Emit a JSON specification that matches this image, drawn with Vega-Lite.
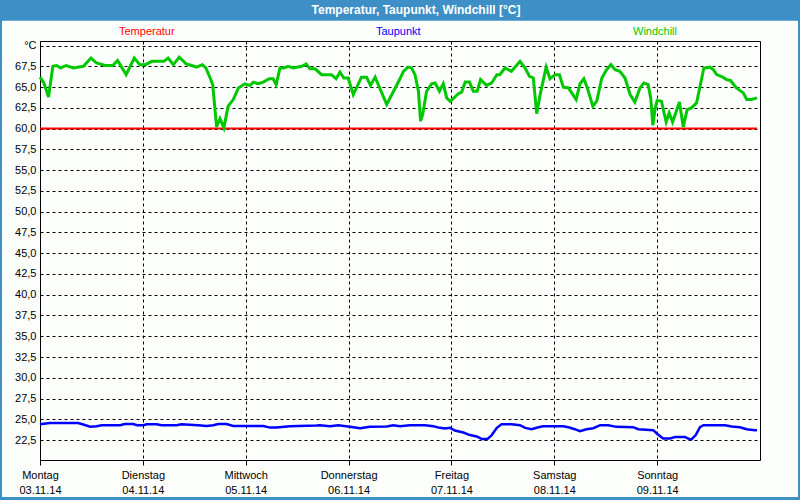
{
 "$schema": "https://vega.github.io/schema/vega-lite/v6.json",
 "width": 720,
 "height": 419,
 "autosize": {"type": "none"},
 "padding": {"left": 40, "top": 41, "right": 40, "bottom": 40},
 "background": "#fcfefc",
 "config": {
  "view": {"stroke": "#000000", "strokeWidth": 1},
  "font": "Liberation Sans",
  "axis": {"labelOverlap": false, "labelBound": false, "labelFlush": false, "title": null, "domain": false,
   "grid": true, "gridColor": "#000000", "gridDash": [3, 3], "gridWidth": 1, "gridOpacity": 1,
   "labelFont": "Liberation Sans", "labelFontSize": 11, "labelColor": "#000000"},
  "axisX": {"ticks": true, "tickColor": "#000000", "tickSize": 5, "tickWidth": 1, "labelAlign": "center", "labelBaseline": "top", "labelPadding": 4, "labelLineHeight": 15},
  "axisY": {"ticks": false, "labelPadding": 4}
 },
 "resolve": {"axis": {"x": "independent", "y": "independent"}},
 "data": {"values": [
  {"s":"Temperatur","t":"2014-11-03T00:00","v":60},
  {"s":"Temperatur","t":"2014-11-09T23:18","v":60},
  {"s":"Taupunkt","t":"2014-11-03T00:00","v":24.4},
  {"s":"Taupunkt","t":"2014-11-03T02:18","v":24.56},
  {"s":"Taupunkt","t":"2014-11-03T08:54","v":24.56},
  {"s":"Taupunkt","t":"2014-11-03T10:06","v":24.37},
  {"s":"Taupunkt","t":"2014-11-03T11:42","v":24.1},
  {"s":"Taupunkt","t":"2014-11-03T13:12","v":24.17},
  {"s":"Taupunkt","t":"2014-11-03T14:24","v":24.29},
  {"s":"Taupunkt","t":"2014-11-03T18:42","v":24.29},
  {"s":"Taupunkt","t":"2014-11-03T19:48","v":24.44},
  {"s":"Taupunkt","t":"2014-11-03T21:48","v":24.44},
  {"s":"Taupunkt","t":"2014-11-03T22:36","v":24.29},
  {"s":"Taupunkt","t":"2014-11-04T00:06","v":24.29},
  {"s":"Taupunkt","t":"2014-11-04T00:54","v":24.4},
  {"s":"Taupunkt","t":"2014-11-04T03:12","v":24.4},
  {"s":"Taupunkt","t":"2014-11-04T04:24","v":24.29},
  {"s":"Taupunkt","t":"2014-11-04T07:54","v":24.29},
  {"s":"Taupunkt","t":"2014-11-04T09:00","v":24.4},
  {"s":"Taupunkt","t":"2014-11-04T12:54","v":24.29},
  {"s":"Taupunkt","t":"2014-11-04T14:54","v":24.2},
  {"s":"Taupunkt","t":"2014-11-04T16:24","v":24.29},
  {"s":"Taupunkt","t":"2014-11-04T17:36","v":24.44},
  {"s":"Taupunkt","t":"2014-11-04T19:30","v":24.44},
  {"s":"Taupunkt","t":"2014-11-04T21:06","v":24.2},
  {"s":"Taupunkt","t":"2014-11-05T04:06","v":24.2},
  {"s":"Taupunkt","t":"2014-11-05T05:42","v":24.0},
  {"s":"Taupunkt","t":"2014-11-05T07:12","v":24.0},
  {"s":"Taupunkt","t":"2014-11-05T10:18","v":24.17},
  {"s":"Taupunkt","t":"2014-11-05T16:30","v":24.25},
  {"s":"Taupunkt","t":"2014-11-05T17:18","v":24.29},
  {"s":"Taupunkt","t":"2014-11-05T19:42","v":24.17},
  {"s":"Taupunkt","t":"2014-11-05T21:36","v":24.29},
  {"s":"Taupunkt","t":"2014-11-06T00:18","v":24.09},
  {"s":"Taupunkt","t":"2014-11-06T02:42","v":23.93},
  {"s":"Taupunkt","t":"2014-11-06T05:00","v":24.09},
  {"s":"Taupunkt","t":"2014-11-06T08:54","v":24.13},
  {"s":"Taupunkt","t":"2014-11-06T10:24","v":24.29},
  {"s":"Taupunkt","t":"2014-11-06T12:00","v":24.17},
  {"s":"Taupunkt","t":"2014-11-06T14:18","v":24.29},
  {"s":"Taupunkt","t":"2014-11-06T17:48","v":24.29},
  {"s":"Taupunkt","t":"2014-11-06T19:48","v":24.17},
  {"s":"Taupunkt","t":"2014-11-06T21:18","v":23.97},
  {"s":"Taupunkt","t":"2014-11-06T22:30","v":23.9},
  {"s":"Taupunkt","t":"2014-11-06T23:42","v":23.97},
  {"s":"Taupunkt","t":"2014-11-07T00:48","v":23.65},
  {"s":"Taupunkt","t":"2014-11-07T02:48","v":23.41},
  {"s":"Taupunkt","t":"2014-11-07T04:18","v":23.1},
  {"s":"Taupunkt","t":"2014-11-07T05:54","v":22.94},
  {"s":"Taupunkt","t":"2014-11-07T07:06","v":22.62},
  {"s":"Taupunkt","t":"2014-11-07T08:24","v":22.62},
  {"s":"Taupunkt","t":"2014-11-07T09:24","v":23.1},
  {"s":"Taupunkt","t":"2014-11-07T10:36","v":23.97},
  {"s":"Taupunkt","t":"2014-11-07T11:42","v":24.4},
  {"s":"Taupunkt","t":"2014-11-07T14:00","v":24.4},
  {"s":"Taupunkt","t":"2014-11-07T16:00","v":24.29},
  {"s":"Taupunkt","t":"2014-11-07T17:12","v":23.97},
  {"s":"Taupunkt","t":"2014-11-07T18:42","v":23.81},
  {"s":"Taupunkt","t":"2014-11-07T20:18","v":24.05},
  {"s":"Taupunkt","t":"2014-11-07T21:24","v":24.17},
  {"s":"Taupunkt","t":"2014-11-08T02:06","v":24.17},
  {"s":"Taupunkt","t":"2014-11-08T03:18","v":24.05},
  {"s":"Taupunkt","t":"2014-11-08T04:48","v":23.81},
  {"s":"Taupunkt","t":"2014-11-08T06:00","v":23.57},
  {"s":"Taupunkt","t":"2014-11-08T07:30","v":23.81},
  {"s":"Taupunkt","t":"2014-11-08T09:06","v":23.93},
  {"s":"Taupunkt","t":"2014-11-08T10:42","v":24.29},
  {"s":"Taupunkt","t":"2014-11-08T12:36","v":24.29},
  {"s":"Taupunkt","t":"2014-11-08T14:30","v":24.09},
  {"s":"Taupunkt","t":"2014-11-08T18:24","v":24.05},
  {"s":"Taupunkt","t":"2014-11-08T19:36","v":23.81},
  {"s":"Taupunkt","t":"2014-11-08T23:06","v":23.69},
  {"s":"Taupunkt","t":"2014-11-08T23:54","v":23.29},
  {"s":"Taupunkt","t":"2014-11-09T01:24","v":22.7},
  {"s":"Taupunkt","t":"2014-11-09T03:00","v":22.7},
  {"s":"Taupunkt","t":"2014-11-09T04:12","v":22.86},
  {"s":"Taupunkt","t":"2014-11-09T06:30","v":22.86},
  {"s":"Taupunkt","t":"2014-11-09T07:30","v":22.62},
  {"s":"Taupunkt","t":"2014-11-09T08:00","v":22.58},
  {"s":"Taupunkt","t":"2014-11-09T09:00","v":23.1},
  {"s":"Taupunkt","t":"2014-11-09T10:00","v":24.05},
  {"s":"Taupunkt","t":"2014-11-09T10:48","v":24.29},
  {"s":"Taupunkt","t":"2014-11-09T15:48","v":24.29},
  {"s":"Taupunkt","t":"2014-11-09T17:24","v":24.13},
  {"s":"Taupunkt","t":"2014-11-09T19:18","v":24.05},
  {"s":"Taupunkt","t":"2014-11-09T20:54","v":23.81},
  {"s":"Taupunkt","t":"2014-11-09T22:48","v":23.69},
  {"s":"Taupunkt","t":"2014-11-09T23:18","v":23.69},
  {"s":"Windchill","t":"2014-11-03T00:00","v":66.2},
  {"s":"Windchill","t":"2014-11-03T00:54","v":65.5},
  {"s":"Windchill","t":"2014-11-03T02:00","v":63.8},
  {"s":"Windchill","t":"2014-11-03T03:00","v":67.5},
  {"s":"Windchill","t":"2014-11-03T03:54","v":67.6},
  {"s":"Windchill","t":"2014-11-03T04:48","v":67.3},
  {"s":"Windchill","t":"2014-11-03T06:06","v":67.6},
  {"s":"Windchill","t":"2014-11-03T07:48","v":67.3},
  {"s":"Windchill","t":"2014-11-03T10:06","v":67.5},
  {"s":"Windchill","t":"2014-11-03T11:54","v":68.5},
  {"s":"Windchill","t":"2014-11-03T13:12","v":67.9},
  {"s":"Windchill","t":"2014-11-03T15:12","v":67.6},
  {"s":"Windchill","t":"2014-11-03T17:00","v":67.6},
  {"s":"Windchill","t":"2014-11-03T18:06","v":68.2},
  {"s":"Windchill","t":"2014-11-03T20:06","v":66.5},
  {"s":"Windchill","t":"2014-11-03T22:00","v":68.5},
  {"s":"Windchill","t":"2014-11-03T23:18","v":67.7},
  {"s":"Windchill","t":"2014-11-04T00:36","v":67.7},
  {"s":"Windchill","t":"2014-11-04T02:06","v":68.1},
  {"s":"Windchill","t":"2014-11-04T04:54","v":68.1},
  {"s":"Windchill","t":"2014-11-04T05:54","v":68.5},
  {"s":"Windchill","t":"2014-11-04T07:06","v":67.7},
  {"s":"Windchill","t":"2014-11-04T08:30","v":68.6},
  {"s":"Windchill","t":"2014-11-04T10:06","v":67.8},
  {"s":"Windchill","t":"2014-11-04T11:24","v":67.6},
  {"s":"Windchill","t":"2014-11-04T12:30","v":67.4},
  {"s":"Windchill","t":"2014-11-04T13:54","v":67.7},
  {"s":"Windchill","t":"2014-11-04T14:42","v":67.3},
  {"s":"Windchill","t":"2014-11-04T15:42","v":66.1},
  {"s":"Windchill","t":"2014-11-04T16:18","v":65.3},
  {"s":"Windchill","t":"2014-11-04T16:48","v":62.5},
  {"s":"Windchill","t":"2014-11-04T17:12","v":60.2},
  {"s":"Windchill","t":"2014-11-04T18:00","v":61.2},
  {"s":"Windchill","t":"2014-11-04T18:54","v":60.1},
  {"s":"Windchill","t":"2014-11-04T19:54","v":62.7},
  {"s":"Windchill","t":"2014-11-04T21:06","v":63.5},
  {"s":"Windchill","t":"2014-11-04T22:18","v":64.9},
  {"s":"Windchill","t":"2014-11-04T23:48","v":65.4},
  {"s":"Windchill","t":"2014-11-05T01:00","v":65.2},
  {"s":"Windchill","t":"2014-11-05T01:48","v":65.6},
  {"s":"Windchill","t":"2014-11-05T02:54","v":65.4},
  {"s":"Windchill","t":"2014-11-05T04:06","v":65.6},
  {"s":"Windchill","t":"2014-11-05T05:30","v":66.0},
  {"s":"Windchill","t":"2014-11-05T06:24","v":66.0},
  {"s":"Windchill","t":"2014-11-05T07:06","v":65.3},
  {"s":"Windchill","t":"2014-11-05T08:00","v":67.3},
  {"s":"Windchill","t":"2014-11-05T08:54","v":67.3},
  {"s":"Windchill","t":"2014-11-05T09:54","v":67.5},
  {"s":"Windchill","t":"2014-11-05T11:06","v":67.3},
  {"s":"Windchill","t":"2014-11-05T13:06","v":67.5},
  {"s":"Windchill","t":"2014-11-05T14:06","v":67.8},
  {"s":"Windchill","t":"2014-11-05T15:00","v":67.2},
  {"s":"Windchill","t":"2014-11-05T16:12","v":67.2},
  {"s":"Windchill","t":"2014-11-05T17:42","v":66.5},
  {"s":"Windchill","t":"2014-11-05T20:00","v":66.5},
  {"s":"Windchill","t":"2014-11-05T21:06","v":66.0},
  {"s":"Windchill","t":"2014-11-05T22:00","v":66.8},
  {"s":"Windchill","t":"2014-11-05T22:54","v":66.1},
  {"s":"Windchill","t":"2014-11-05T23:54","v":66.1},
  {"s":"Windchill","t":"2014-11-06T01:06","v":64.1},
  {"s":"Windchill","t":"2014-11-06T03:00","v":66.2},
  {"s":"Windchill","t":"2014-11-06T04:12","v":66.2},
  {"s":"Windchill","t":"2014-11-06T05:06","v":65.2},
  {"s":"Windchill","t":"2014-11-06T06:12","v":66.2},
  {"s":"Windchill","t":"2014-11-06T08:54","v":62.9},
  {"s":"Windchill","t":"2014-11-06T12:00","v":66.0},
  {"s":"Windchill","t":"2014-11-06T12:48","v":66.9},
  {"s":"Windchill","t":"2014-11-06T13:54","v":67.4},
  {"s":"Windchill","t":"2014-11-06T14:42","v":67.3},
  {"s":"Windchill","t":"2014-11-06T15:30","v":66.5},
  {"s":"Windchill","t":"2014-11-06T16:18","v":64.5},
  {"s":"Windchill","t":"2014-11-06T16:48","v":60.9},
  {"s":"Windchill","t":"2014-11-06T17:18","v":61.7},
  {"s":"Windchill","t":"2014-11-06T18:12","v":64.5},
  {"s":"Windchill","t":"2014-11-06T19:24","v":65.4},
  {"s":"Windchill","t":"2014-11-06T20:12","v":65.5},
  {"s":"Windchill","t":"2014-11-06T21:12","v":64.5},
  {"s":"Windchill","t":"2014-11-06T22:06","v":65.4},
  {"s":"Windchill","t":"2014-11-06T22:54","v":63.7},
  {"s":"Windchill","t":"2014-11-06T23:42","v":63.3},
  {"s":"Windchill","t":"2014-11-07T00:24","v":63.6},
  {"s":"Windchill","t":"2014-11-07T01:36","v":64.2},
  {"s":"Windchill","t":"2014-11-07T02:24","v":64.4},
  {"s":"Windchill","t":"2014-11-07T03:12","v":65.6},
  {"s":"Windchill","t":"2014-11-07T04:12","v":65.6},
  {"s":"Windchill","t":"2014-11-07T05:06","v":64.5},
  {"s":"Windchill","t":"2014-11-07T06:00","v":64.5},
  {"s":"Windchill","t":"2014-11-07T06:48","v":65.9},
  {"s":"Windchill","t":"2014-11-07T08:12","v":65.2},
  {"s":"Windchill","t":"2014-11-07T09:24","v":65.5},
  {"s":"Windchill","t":"2014-11-07T10:36","v":66.5},
  {"s":"Windchill","t":"2014-11-07T11:18","v":66.5},
  {"s":"Windchill","t":"2014-11-07T12:30","v":67.3},
  {"s":"Windchill","t":"2014-11-07T14:00","v":66.9},
  {"s":"Windchill","t":"2014-11-07T16:00","v":68.1},
  {"s":"Windchill","t":"2014-11-07T17:12","v":67.3},
  {"s":"Windchill","t":"2014-11-07T18:12","v":66.3},
  {"s":"Windchill","t":"2014-11-07T19:06","v":66.1},
  {"s":"Windchill","t":"2014-11-07T19:54","v":61.8},
  {"s":"Windchill","t":"2014-11-07T20:42","v":64.1},
  {"s":"Windchill","t":"2014-11-07T22:06","v":67.4},
  {"s":"Windchill","t":"2014-11-07T23:00","v":66.0},
  {"s":"Windchill","t":"2014-11-08T00:12","v":66.5},
  {"s":"Windchill","t":"2014-11-08T01:12","v":66.5},
  {"s":"Windchill","t":"2014-11-08T02:06","v":65.0},
  {"s":"Windchill","t":"2014-11-08T03:18","v":64.9},
  {"s":"Windchill","t":"2014-11-08T05:06","v":63.5},
  {"s":"Windchill","t":"2014-11-08T06:00","v":65.4},
  {"s":"Windchill","t":"2014-11-08T06:54","v":66.0},
  {"s":"Windchill","t":"2014-11-08T07:42","v":64.9},
  {"s":"Windchill","t":"2014-11-08T09:00","v":62.7},
  {"s":"Windchill","t":"2014-11-08T09:54","v":63.3},
  {"s":"Windchill","t":"2014-11-08T11:06","v":66.1},
  {"s":"Windchill","t":"2014-11-08T12:12","v":67.1},
  {"s":"Windchill","t":"2014-11-08T13:12","v":67.7},
  {"s":"Windchill","t":"2014-11-08T14:12","v":67.1},
  {"s":"Windchill","t":"2014-11-08T15:18","v":66.9},
  {"s":"Windchill","t":"2014-11-08T16:30","v":66.1},
  {"s":"Windchill","t":"2014-11-08T17:42","v":64.1},
  {"s":"Windchill","t":"2014-11-08T18:48","v":63.2},
  {"s":"Windchill","t":"2014-11-08T20:00","v":64.9},
  {"s":"Windchill","t":"2014-11-08T20:54","v":65.5},
  {"s":"Windchill","t":"2014-11-08T21:54","v":65.3},
  {"s":"Windchill","t":"2014-11-08T22:30","v":63.7},
  {"s":"Windchill","t":"2014-11-08T23:00","v":60.4},
  {"s":"Windchill","t":"2014-11-08T23:30","v":62.3},
  {"s":"Windchill","t":"2014-11-09T00:00","v":63.4},
  {"s":"Windchill","t":"2014-11-09T01:00","v":63.3},
  {"s":"Windchill","t":"2014-11-09T02:06","v":60.8},
  {"s":"Windchill","t":"2014-11-09T02:48","v":61.9},
  {"s":"Windchill","t":"2014-11-09T03:36","v":60.8},
  {"s":"Windchill","t":"2014-11-09T05:12","v":63.2},
  {"s":"Windchill","t":"2014-11-09T06:06","v":60.2},
  {"s":"Windchill","t":"2014-11-09T07:00","v":62.3},
  {"s":"Windchill","t":"2014-11-09T08:00","v":62.5},
  {"s":"Windchill","t":"2014-11-09T09:12","v":63.1},
  {"s":"Windchill","t":"2014-11-09T10:54","v":67.3},
  {"s":"Windchill","t":"2014-11-09T12:18","v":67.4},
  {"s":"Windchill","t":"2014-11-09T13:06","v":67.1},
  {"s":"Windchill","t":"2014-11-09T13:54","v":66.5},
  {"s":"Windchill","t":"2014-11-09T15:18","v":66.2},
  {"s":"Windchill","t":"2014-11-09T16:12","v":65.9},
  {"s":"Windchill","t":"2014-11-09T17:06","v":65.8},
  {"s":"Windchill","t":"2014-11-09T18:30","v":64.9},
  {"s":"Windchill","t":"2014-11-09T20:06","v":64.3},
  {"s":"Windchill","t":"2014-11-09T20:54","v":63.5},
  {"s":"Windchill","t":"2014-11-09T22:00","v":63.5},
  {"s":"Windchill","t":"2014-11-09T23:18","v":63.7}
 ]},
 "layer": [
  {
   "data": {"values": [{}]},
   "mark": {"type": "rect", "color": "#3d8fc6"},
   "encoding": {
    "x": {"datum": {"year": 2014, "month": 11, "date": 2, "hours": 12}, "type": "temporal", "axis": null},
    "x2": {"datum": {"year": 2014, "month": 11, "date": 10, "hours": 12}},
    "y": {"datum": 76, "type": "quantitative", "axis": null},
    "y2": {"datum": 73.0}
   }
  },
  {
   "data": {"values": [{}]},
   "mark": {"type": "rect", "color": "#3d8fc6"},
   "encoding": {
    "x": {"datum": {"year": 2014, "month": 11, "date": 2, "hours": 12}, "type": "temporal", "axis": null},
    "x2": {"datum": {"year": 2014, "month": 11, "date": 2, "hours": 15, "minutes": 8}},
    "y": {"datum": 76, "type": "quantitative", "axis": null},
    "y2": {"datum": 10}
   }
  },
  {
   "data": {"values": [{}]},
   "mark": {"type": "rect", "color": "#3d8fc6"},
   "encoding": {
    "x": {"datum": {"year": 2014, "month": 11, "date": 10, "hours": 8, "minutes": 52}, "type": "temporal", "axis": null},
    "x2": {"datum": {"year": 2014, "month": 11, "date": 10, "hours": 12}},
    "y": {"datum": 76, "type": "quantitative", "axis": null},
    "y2": {"datum": 10}
   }
  },
  {
   "data": {"values": [{}]},
   "mark": {"type": "rect", "color": "#3d8fc6"},
   "encoding": {
    "x": {"datum": {"year": 2014, "month": 11, "date": 2, "hours": 12}, "type": "temporal", "axis": null},
    "x2": {"datum": {"year": 2014, "month": 11, "date": 10, "hours": 12}},
    "y": {"datum": 15.65, "type": "quantitative", "axis": null},
    "y2": {"datum": 10}
   }
  },
  {
   "data": {"values": [{"label": "Temperatur, Taupunkt, Windchill [°C]"}]},
   "mark": {"type": "text", "color": "#ffffff", "font": "Liberation Sans", "fontSize": 12, "fontWeight": "bold", "align": "center", "baseline": "middle"},
   "encoding": {
    "x": {"datum": {"year": 2014, "month": 11, "date": 6, "hours": 15, "minutes": 44}, "type": "temporal", "axis": null},
    "y": {"datum": 74.28, "type": "quantitative", "axis": null},
    "text": {"field": "label", "type": "nominal"}
   }
  },
  {
   "mark": {"type": "line", "interpolate": "linear"},
   "encoding": {
    "x": {"field": "t", "type": "temporal",
     "scale": {"domain": [{"year": 2014, "month": 11, "date": 3}, {"year": 2014, "month": 11, "date": 10}]},
     "axis": {"title": null, "labelOverlap": false, "orient": "bottom",
      "grid": true, "gridColor": "#000000", "gridDash": [3, 3], "gridWidth": 1, "gridOpacity": 1,
      "values": [{"year": 2014, "month": 11, "date": 3}, {"year": 2014, "month": 11, "date": 4}, {"year": 2014, "month": 11, "date": 5}, {"year": 2014, "month": 11, "date": 6}, {"year": 2014, "month": 11, "date": 7}, {"year": 2014, "month": 11, "date": 8}, {"year": 2014, "month": 11, "date": 9}],
      "labelExpr": "[['Sonntag','Montag','Dienstag','Mittwoch','Donnerstag','Freitag','Samstag'][day(datum.value)], timeFormat(datum.value, '%d.%m.%y')]"}
    },
    "y": {"field": "v", "type": "quantitative",
     "scale": {"domain": [20.1, 70.55], "nice": false, "zero": false},
     "axis": {"title": null, "labelOverlap": false, "orient": "left",
      "grid": true, "gridColor": "#000000", "gridDash": [3, 3], "gridWidth": 1, "gridOpacity": 1,
      "values": [22.5, 25, 27.5, 30, 32.5, 35, 37.5, 40, 42.5, 45, 47.5, 50, 52.5, 55, 57.5, 60, 62.5, 65, 67.5, 70],
      "labelExpr": "datum.value >= 70 ? '°C' : replace(format(datum.value, '.1f'), '.', ',')"}
    },
    "color": {"field": "s", "type": "nominal",
     "scale": {"domain": ["Temperatur", "Taupunkt", "Windchill"], "range": ["#ff0000", "#0000ff", "#00c800"]},
     "legend": {"orient": "none", "legendX": 68, "legendY": -15, "direction": "horizontal", "title": null,
      "symbolSize": 0, "symbolStrokeWidth": 0, "symbolOpacity": 0, "labelOffset": 0, "columnPadding": 190,
      "gridAlign": "all", "padding": 0, "labelFont": "Liberation Sans", "labelFontSize": 11,
      "encode": {"labels": {"update": {"fill": {"scale": "color", "field": "value"}}}}}
    },
    "strokeWidth": {"field": "s", "type": "nominal",
     "scale": {"domain": ["Temperatur", "Taupunkt", "Windchill"], "range": [2, 3, 2]}, "legend": null}
   }
  }
 ]
}
